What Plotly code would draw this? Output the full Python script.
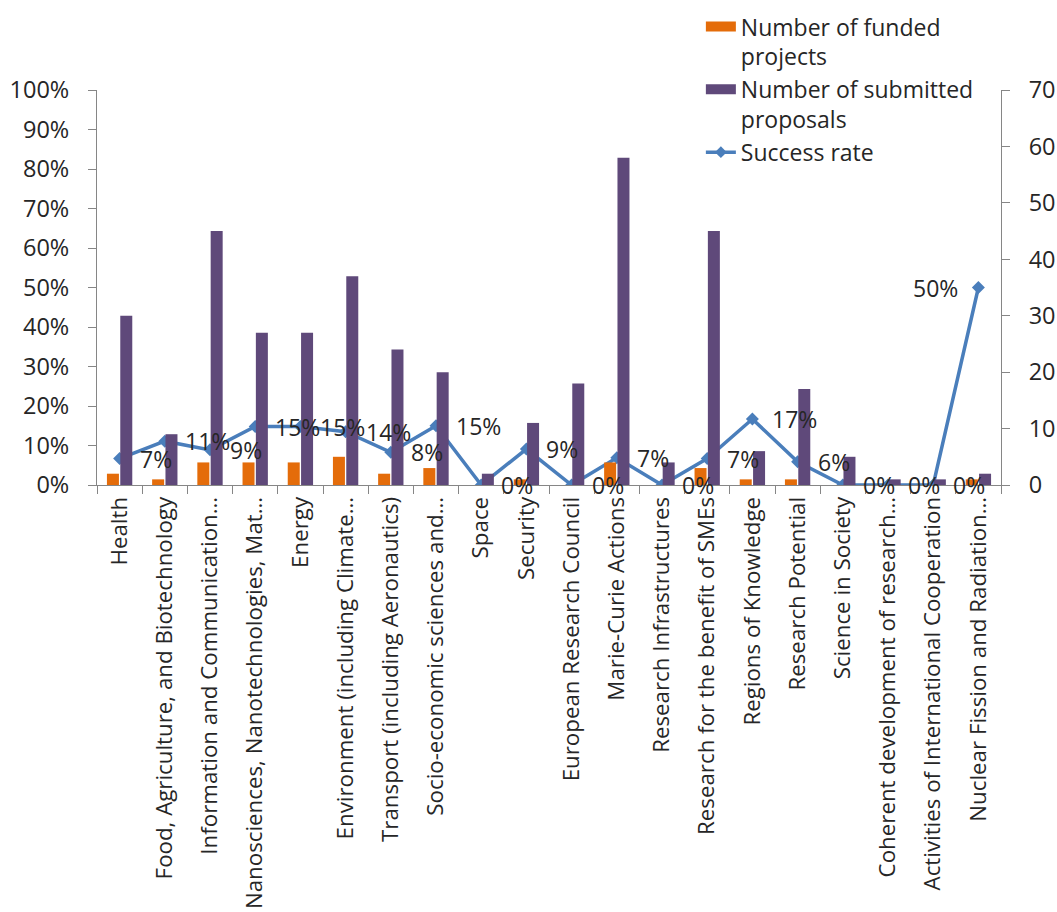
import plotly.graph_objects as go

categories = [
    "Health",
    "Food, Agriculture, and Biotechnology",
    "Information and Communication…",
    "Nanosciences, Nanotechnologies, Mat…",
    "Energy",
    "Environment (including Climate…",
    "Transport (including Aeronautics)",
    "Socio-economic sciences and…",
    "Space",
    "Security",
    "European Research Council",
    "Marie-Curie Actions",
    "Research Infrastructures",
    "Research for the benefit of SMEs",
    "Regions of Knowledge",
    "Research Potential",
    "Science in Society",
    "Coherent development of research…",
    "Activities of International Cooperation",
    "Nuclear Fission and Radiation…",
]
funded = [2, 1, 4, 4, 4, 5, 2, 3, 0, 1, 0, 4, 0, 3, 1, 1, 0, 0, 0, 1]
submitted = [30, 9, 45, 27, 27, 37, 24, 20, 2, 11, 18, 58, 4, 45, 6, 17, 5, 1, 1, 2]
success_rate = [0.067, 0.111, 0.089, 0.148, 0.148, 0.135, 0.083, 0.15, 0.0, 0.091,
                0.0, 0.069, 0.0, 0.067, 0.167, 0.059, 0.0, 0.0, 0.0, 0.5]
rate_labels = ["7%", "11%", "9%", "15%", "15%", "14%", "8%", "15%", "0%", "9%",
               "0%", "7%", "0%", "7%", "17%", "6%", "0%", "0%", "0%", "50%"]

FONT = "Open Sans"
FS = 23.5
TXT = "#262626"
AX = "#868686"
ORANGE = "#E46C0A"
PURPLE = "#5F497A"
BLUE = "#4A7EBB"

fig = go.Figure()
fig.add_trace(go.Scatter(
    x=categories, y=success_rate, yaxis="y", name="Success rate",
    mode="lines+markers",
    line=dict(color=BLUE, width=3.5),
    marker=dict(symbol="diamond", size=10, color=BLUE),
    showlegend=False,
))
fig.add_trace(go.Bar(
    x=categories, y=funded, yaxis="y2", name="Number of funded projects",
    marker=dict(color=ORANGE, line=dict(width=0)), showlegend=False,
))
fig.add_trace(go.Bar(
    x=categories, y=submitted, yaxis="y2", name="Number of submitted proposals",
    marker=dict(color=PURPLE, line=dict(width=0)), showlegend=False,
))

# legend entries (wide swatches like the original)
fig.add_trace(go.Scatter(
    x=[None], y=[None], mode="lines", name="Number of funded<br>projects",
    line=dict(color=ORANGE, width=12), legendrank=1,
))
fig.add_trace(go.Scatter(
    x=[None], y=[None], mode="lines", name="Number of submitted<br>proposals",
    line=dict(color=PURPLE, width=12), legendrank=2,
))
fig.add_trace(go.Scatter(
    x=[None], y=[None], mode="lines+markers", name="Success rate",
    line=dict(color=BLUE, width=3.5),
    marker=dict(symbol="diamond", size=9, color=BLUE), legendrank=3,
))

for i, (c, v, t) in enumerate(zip(categories, success_rate, rate_labels)):
    last = i == len(categories) - 1
    fig.add_annotation(
        x=c, y=v, xref="x", yref="y", text=t, showarrow=False,
        xanchor="right" if last else "left",
        xshift=-18 if last else 18,
        font=dict(family=FONT, size=23, color=TXT),
    )

fig.update_layout(
    width=1057, height=912,
    margin=dict(l=97, r=56, t=90, b=427, autoexpand=False),
    paper_bgcolor="white", plot_bgcolor="white",
    font=dict(family=FONT, size=FS, color=TXT),
    barmode="group", bargap=0.41, bargroupgap=0.1,
    showlegend=True,
    legend=dict(
        x=0.668, y=1.215, xanchor="left", yanchor="top",
        font=dict(family=FONT, size=23, color=TXT),
        tracegroupgap=0, valign="top", bgcolor="rgba(0,0,0,0)",
        traceorder="normal",
    ),
    xaxis=dict(
        type="category", tickangle=-90, showgrid=False, automargin=False,
        range=[-0.5, len(categories) - 0.5],
        showline=True, linecolor=AX, linewidth=1,
        ticks="outside", tickson="boundaries", ticklen=8, tickcolor=AX,
        ticklabelstandoff=2,
        tickfont=dict(family=FONT, size=22.3, color=TXT),
    ),
    yaxis=dict(
        range=[0, 1], dtick=0.1, tickformat=".0%", showgrid=False, automargin=False,
        showline=True, linecolor=AX, linewidth=1,
        ticks="outside", ticklen=8, tickcolor=AX, zeroline=False,
        ticklabelstandoff=14,
        tickfont=dict(family=FONT, size=FS, color=TXT),
    ),
    yaxis2=dict(
        range=[0, 70], dtick=10, overlaying="y", side="right", showgrid=False,
        automargin=False,
        showline=True, linecolor=AX, linewidth=1,
        ticks="outside", ticklen=8, tickcolor=AX, zeroline=False,
        ticklabelstandoff=14,
        tickfont=dict(family=FONT, size=FS, color=TXT),
    ),
)

fig.write_html(
    "out.html",
    config={"displayModeBar": False},
    post_script="document.body.style.margin='0';document.body.style.overflow='hidden';",
)
